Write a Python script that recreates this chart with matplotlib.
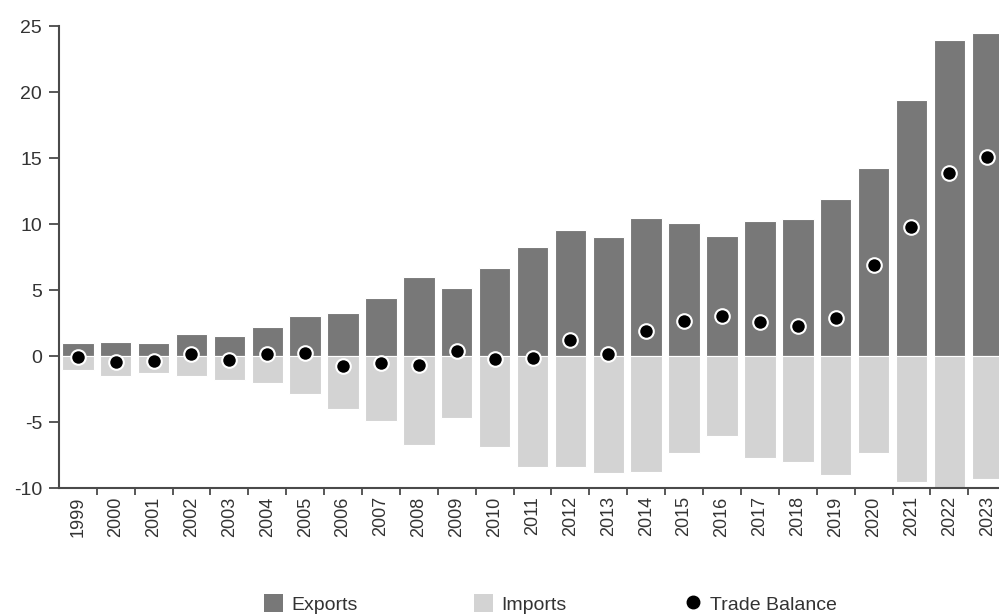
import matplotlib
matplotlib.use("Agg")
import matplotlib.pyplot as plt
from matplotlib.patches import Patch
from matplotlib.lines import Line2D
import numpy as np

plt.rcParams['font.family'] = ['Liberation Sans', 'DejaVu Sans']

years = [str(y) for y in range(1999, 2024)]
exports = [0.96, 1.04, 0.96, 1.64, 1.54, 2.22, 3.03, 3.26, 4.37, 6.01, 5.13, 6.64, 8.28, 9.57,
           8.99, 10.48, 10.05, 9.12, 10.25, 10.38, 11.87, 14.22, 19.39, 23.94, 24.45]
imports = [-1.06, -1.49, -1.31, -1.49, -1.82, -2.07, -2.88, -4.03, -4.92, -6.74, -4.72, -6.87,
           -8.43, -8.38, -8.84, -8.76, -7.37, -6.06, -7.75, -8.05, -9.02, -7.32, -9.57, -10.2, -9.32]
balance = [-0.10, -0.48, -0.35, 0.13, -0.30, 0.13, 0.20, -0.74, -0.55, -0.68, 0.40, -0.23,
           -0.13, 1.19, 0.18, 1.89, 2.65, 3.05, 2.58, 2.30, 2.85, 6.89, 9.75, 13.89, 15.10]

c_exp = '#787878'
c_imp = '#d3d3d3'
spine_c = '#4a4a4a'
txt_c = '#333333'

fig = plt.figure(figsize=(9.99, 6.15), dpi=100)
ax = fig.add_axes([0.0589, 0.2065, 1 - 0.0589, 0.9577 - 0.2065])

x = np.arange(len(years))
w = 0.83
ax.bar(x, exports, width=w, color=c_exp, edgecolor='white', linewidth=0.8, zorder=2)
ax.bar(x, imports, width=w, color=c_imp, edgecolor='white', linewidth=0.8, zorder=2)
ax.scatter(x, balance, s=110, color='black', edgecolor='white', linewidth=1.5, zorder=4)

ax.set_ylim(-10, 25)
ax.set_xlim(-0.5, 24.31)
ax.set_yticks(np.arange(-10, 26, 5))
ax.set_yticklabels([str(v) for v in range(-10, 26, 5)], fontsize=14, color=txt_c)

ax.set_xticks(x)
ax.set_xticklabels(years, rotation=90, fontsize=13, color=txt_c)
ax.set_xticks(np.arange(0.5, 24.5, 1), minor=True)
ax.tick_params(axis='x', which='major', length=0, pad=6)
ax.tick_params(axis='x', which='minor', length=5, width=1.3, color=spine_c, direction='out')
ax.tick_params(axis='y', length=7, width=1.3, color=spine_c, pad=5)

for s in ['top', 'right']:
    ax.spines[s].set_visible(False)
for s in ['left', 'bottom']:
    ax.spines[s].set_color(spine_c)
    ax.spines[s].set_linewidth(1.5)

handles = [
    Patch(facecolor=c_exp, edgecolor='none', label='Exports'),
    Patch(facecolor=c_imp, edgecolor='none', label='Imports'),
    Line2D([], [], marker='o', linestyle='none', color='black', markersize=9, label='Trade Balance'),
]
fig.legend(handles=handles, loc='center', bbox_to_anchor=(0.551, 0.018), ncol=3, frameon=False,
           fontsize=14, columnspacing=6.0, handlelength=1.0, handleheight=1.0, handletextpad=0.4,
           labelcolor=txt_c)

fig.savefig('out.png', dpi=100)
